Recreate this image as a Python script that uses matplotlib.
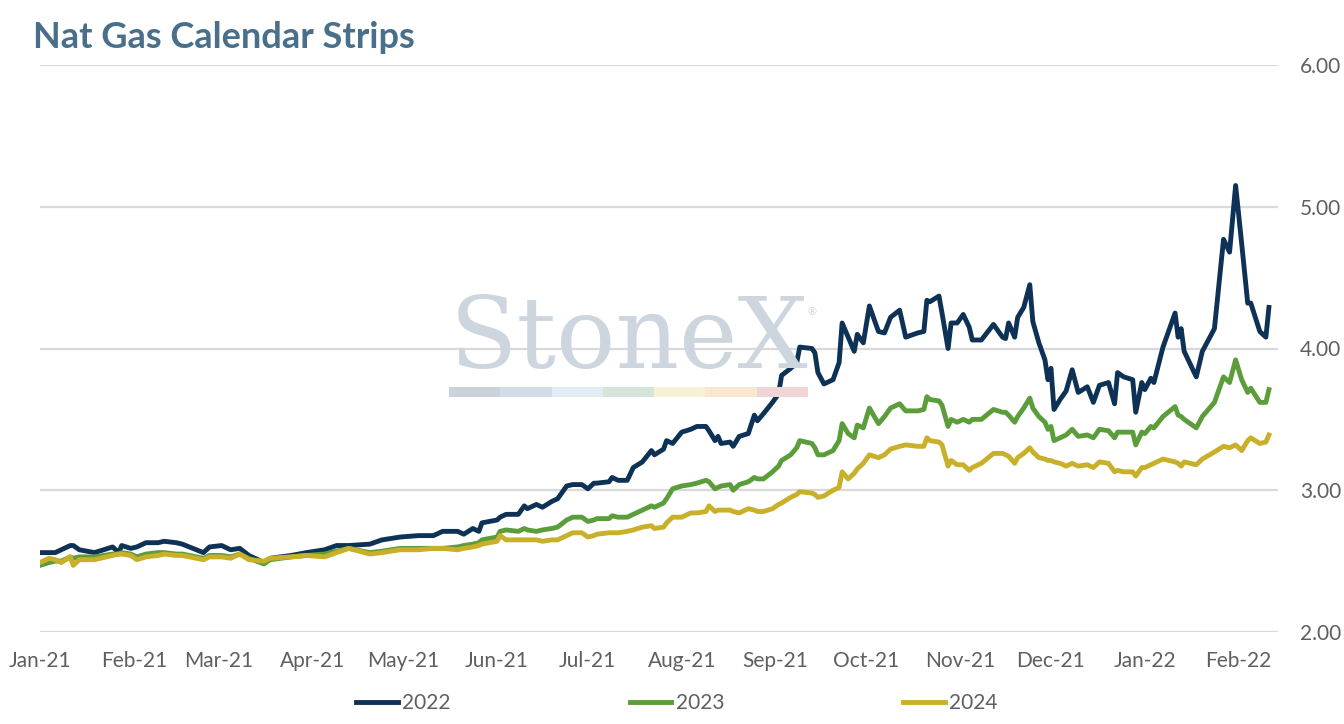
import matplotlib
matplotlib.use("Agg")
import matplotlib.pyplot as plt
import matplotlib.dates as mdates
from matplotlib.patches import Rectangle
import pandas as pd

# ── Data ─────────────────────────────────────────────────
dates = [
    "2021-01-01", "2021-01-04", "2021-01-06", "2021-01-08", "2021-01-11", "2021-01-12",
    "2021-01-14", "2021-01-19", "2021-01-25", "2021-01-27", "2021-01-28", "2021-01-31",
    "2021-02-02", "2021-02-05", "2021-02-09", "2021-02-11", "2021-02-15", "2021-02-17",
    "2021-02-24", "2021-02-26", "2021-03-02", "2021-03-05", "2021-03-08", "2021-03-11",
    "2021-03-16", "2021-03-18", "2021-03-25", "2021-03-30", "2021-04-05", "2021-04-09",
    "2021-04-13", "2021-04-20", "2021-04-24", "2021-04-30", "2021-05-06", "2021-05-11",
    "2021-05-14", "2021-05-19", "2021-05-21", "2021-05-24", "2021-05-26", "2021-05-27",
    "2021-06-01", "2021-06-02", "2021-06-04", "2021-06-08", "2021-06-10", "2021-06-11",
    "2021-06-14", "2021-06-16", "2021-06-19", "2021-06-21", "2021-06-24", "2021-06-26",
    "2021-06-29", "2021-07-01", "2021-07-03", "2021-07-04", "2021-07-08", "2021-07-09",
    "2021-07-11", "2021-07-14", "2021-07-16", "2021-07-19", "2021-07-22", "2021-07-23",
    "2021-07-26", "2021-07-27", "2021-07-29", "2021-08-01", "2021-08-04", "2021-08-06",
    "2021-08-09", "2021-08-10", "2021-08-12", "2021-08-13", "2021-08-14", "2021-08-17",
    "2021-08-18", "2021-08-20", "2021-08-23", "2021-08-25", "2021-08-26", "2021-08-28",
    "2021-08-31", "2021-09-02", "2021-09-03", "2021-09-06", "2021-09-08", "2021-09-09",
    "2021-09-13", "2021-09-14", "2021-09-15", "2021-09-17", "2021-09-20", "2021-09-22",
    "2021-09-23", "2021-09-25", "2021-09-27", "2021-09-28", "2021-09-30", "2021-10-02",
    "2021-10-05", "2021-10-07", "2021-10-09", "2021-10-12", "2021-10-14", "2021-10-18",
    "2021-10-20", "2021-10-21", "2021-10-22", "2021-10-25", "2021-10-26", "2021-10-28",
    "2021-10-29", "2021-10-31", "2021-11-02", "2021-11-04", "2021-11-05", "2021-11-08",
    "2021-11-12", "2021-11-15", "2021-11-16", "2021-11-17", "2021-11-19", "2021-11-20",
    "2021-11-22", "2021-11-24", "2021-11-25", "2021-11-27", "2021-11-29", "2021-11-30",
    "2021-12-01", "2021-12-02", "2021-12-04", "2021-12-06", "2021-12-08", "2021-12-10",
    "2021-12-13", "2021-12-15", "2021-12-17", "2021-12-20", "2021-12-22", "2021-12-23",
    "2021-12-25", "2021-12-28", "2021-12-29", "2021-12-31", "2022-01-01", "2022-01-03",
    "2022-01-04", "2022-01-07", "2022-01-11", "2022-01-12", "2022-01-13", "2022-01-14",
    "2022-01-18", "2022-01-20", "2022-01-24", "2022-01-27", "2022-01-29", "2022-01-31",
    "2022-02-02", "2022-02-04", "2022-02-05", "2022-02-08", "2022-02-10", "2022-02-11",
]

strip_2022 = [
    2.56, 2.56, 2.56, 2.58, 2.61, 2.61, 2.58, 2.56, 2.60, 2.56, 2.61, 2.59,
    2.60, 2.63, 2.63, 2.64, 2.63, 2.62, 2.56, 2.60, 2.61, 2.58, 2.59, 2.54,
    2.49, 2.52, 2.54, 2.56, 2.58, 2.61, 2.61, 2.62, 2.65, 2.67, 2.68, 2.68,
    2.71, 2.71, 2.69, 2.73, 2.71, 2.77, 2.79, 2.81, 2.83, 2.83, 2.89, 2.87,
    2.90, 2.88, 2.92, 2.94, 3.03, 3.04, 3.04, 3.01, 3.05, 3.05, 3.06, 3.09,
    3.07, 3.07, 3.16, 3.20, 3.28, 3.25, 3.29, 3.35, 3.33, 3.41, 3.43, 3.45,
    3.45, 3.42, 3.35, 3.38, 3.33, 3.34, 3.31, 3.38, 3.40, 3.53, 3.49, 3.54,
    3.62, 3.68, 3.81, 3.86, 3.90, 4.01, 4.00, 3.97, 3.83, 3.75, 3.78, 3.90,
    4.18, 4.08, 3.98, 4.10, 4.04, 4.30, 4.12, 4.11, 4.22, 4.27, 4.08, 4.11,
    4.12, 4.34, 4.33, 4.37, 4.25, 4.00, 4.18, 4.18, 4.24, 4.15, 4.06, 4.06,
    4.17, 4.08, 4.07, 4.18, 4.08, 4.22, 4.29, 4.45, 4.19, 4.04, 3.92, 3.78,
    3.86, 3.57, 3.64, 3.70, 3.85, 3.69, 3.73, 3.62, 3.74, 3.76, 3.61, 3.83,
    3.80, 3.78, 3.55, 3.76, 3.71, 3.79, 3.76, 4.01, 4.25, 4.08, 4.14, 3.98,
    3.80, 3.98, 4.14, 4.77, 4.68, 5.15, 4.74, 4.32, 4.32, 4.12, 4.08, 4.29,
]

strip_2023 = [
    2.47, 2.49, 2.50, 2.50, 2.53, 2.52, 2.53, 2.53, 2.55, 2.55, 2.56, 2.55,
    2.53, 2.55, 2.56, 2.56, 2.55, 2.55, 2.52, 2.54, 2.54, 2.53, 2.55, 2.52,
    2.48, 2.51, 2.53, 2.54, 2.55, 2.57, 2.59, 2.56, 2.57, 2.59, 2.59, 2.59,
    2.59, 2.60, 2.61, 2.62, 2.63, 2.65, 2.67, 2.71, 2.72, 2.71, 2.73, 2.72,
    2.71, 2.72, 2.73, 2.74, 2.79, 2.81, 2.81, 2.78, 2.79, 2.80, 2.80, 2.82,
    2.81, 2.81, 2.83, 2.86, 2.89, 2.88, 2.91, 2.94, 3.01, 3.03, 3.04, 3.05,
    3.07, 3.06, 3.01, 3.02, 3.03, 3.04, 3.00, 3.04, 3.06, 3.09, 3.08, 3.08,
    3.13, 3.17, 3.21, 3.25, 3.30, 3.35, 3.33, 3.30, 3.25, 3.25, 3.28, 3.35,
    3.47, 3.40, 3.37, 3.46, 3.44, 3.58, 3.47, 3.52, 3.58, 3.61, 3.56, 3.56,
    3.57, 3.66, 3.64, 3.63, 3.60, 3.45, 3.50, 3.48, 3.50, 3.48, 3.50, 3.50,
    3.57, 3.55, 3.55, 3.53, 3.48, 3.52, 3.58, 3.65, 3.58, 3.52, 3.48, 3.43,
    3.45, 3.35, 3.37, 3.39, 3.43, 3.38, 3.39, 3.37, 3.43, 3.42, 3.37, 3.41,
    3.41, 3.41, 3.32, 3.41, 3.40, 3.45, 3.44, 3.52, 3.59, 3.53, 3.52, 3.50,
    3.44, 3.52, 3.62, 3.80, 3.76, 3.92, 3.78, 3.69, 3.72, 3.62, 3.62, 3.71,
]

strip_2024 = [
    2.49, 2.52, 2.51, 2.49, 2.53, 2.47, 2.51, 2.51, 2.54, 2.55, 2.55, 2.54,
    2.51, 2.53, 2.54, 2.55, 2.54, 2.54, 2.51, 2.53, 2.53, 2.52, 2.55, 2.51,
    2.50, 2.52, 2.53, 2.54, 2.53, 2.56, 2.59, 2.55, 2.56, 2.58, 2.58, 2.59,
    2.59, 2.58, 2.59, 2.60, 2.61, 2.62, 2.64, 2.68, 2.65, 2.65, 2.65, 2.65,
    2.65, 2.64, 2.65, 2.65, 2.68, 2.70, 2.70, 2.67, 2.68, 2.69, 2.70, 2.70,
    2.70, 2.71, 2.72, 2.74, 2.75, 2.73, 2.74, 2.77, 2.81, 2.81, 2.84, 2.84,
    2.85, 2.89, 2.85, 2.86, 2.86, 2.86, 2.85, 2.84, 2.87, 2.86, 2.85, 2.85,
    2.87, 2.90, 2.91, 2.95, 2.97, 2.99, 2.98, 2.97, 2.95, 2.96, 3.00, 3.02,
    3.13, 3.08, 3.12, 3.15, 3.19, 3.25, 3.23, 3.25, 3.29, 3.31, 3.32, 3.31,
    3.31, 3.37, 3.35, 3.34, 3.32, 3.17, 3.21, 3.18, 3.18, 3.14, 3.16, 3.19,
    3.26, 3.26, 3.25, 3.24, 3.19, 3.23, 3.26, 3.30, 3.27, 3.23, 3.22, 3.21,
    3.21, 3.20, 3.19, 3.17, 3.19, 3.17, 3.18, 3.16, 3.20, 3.19, 3.13, 3.14,
    3.13, 3.13, 3.10, 3.16, 3.16, 3.18, 3.19, 3.22, 3.20, 3.19, 3.17, 3.20,
    3.18, 3.22, 3.27, 3.31, 3.30, 3.32, 3.28, 3.35, 3.37, 3.33, 3.34, 3.39,
]

series_labels = ["2022", "2023", "2024"]
y_ticks       = [2.0, 3.0, 4.0, 5.0, 6.0]

# ── Style ─────────────────────────────────────────────────
NAVY   = "#0e3156"
GREEN  = "#5c9d3b"
GOLD   = "#c8b02b"
TITLE  = "#4a6f8a"
TEXT   = "#5f5f5f"
GRID   = "#d9d9d9"
FONT   = ["Lato", "DejaVu Sans"]
LW     = 3.5

plt.rcParams["font.family"] = FONT

x = pd.to_datetime(dates)

fig = plt.figure(figsize=(13.44, 7.24), dpi=100)
fig.patch.set_facecolor("white")
ax = fig.add_axes([40 / 1344, 92 / 724, 1238 / 1344, 567 / 724])

# watermark (behind everything)
fig.text(450 / 1344, (724 - 368) / 724, "StoneX", family="DejaVu Serif",
         fontsize=71, color="#cdd5de", ha="left", va="baseline", zorder=0)
fig.text(807 / 1344, (724 - 312) / 724, "®", family="DejaVu Sans",
         fontsize=8, color="#cdd5de", ha="left", va="center", zorder=0)
bar_cols = ["#cbd2d9", "#d3dde8", "#e2ecf5", "#d4e4d8",
            "#f6f0d6", "#f9e8cf", "#f0d4d6"]
seg_w = (808 - 449) / len(bar_cols)
for i, c in enumerate(bar_cols):
    fig.patches.append(Rectangle(((449 + i * seg_w) / 1344, (724 - 397) / 724),
                                 seg_w / 1344, 10 / 724,
                                 transform=fig.transFigure, facecolor=c,
                                 edgecolor="none", zorder=0))

ax.set_facecolor("none")
ax.plot(x, strip_2022, color=NAVY,  lw=LW, label=series_labels[0],
        solid_joinstyle="round", zorder=3)
ax.plot(x, strip_2023, color=GREEN, lw=LW, label=series_labels[1],
        solid_joinstyle="round", zorder=3)
ax.plot(x, strip_2024, color=GOLD,  lw=LW, label=series_labels[2],
        solid_joinstyle="round", zorder=3)

ax.set_ylim(2.0, 6.0)
ax.set_yticks(y_ticks)
ax.yaxis.set_major_formatter(plt.FuncFormatter(lambda v, _: f"{v:.2f}"))
ax.yaxis.tick_right()
ax.set_xlim(pd.Timestamp("2021-01-01"), pd.Timestamp("2022-02-14"))
ax.xaxis.set_major_locator(mdates.MonthLocator())
ax.xaxis.set_major_formatter(mdates.DateFormatter("%b-%y"))

ax.grid(axis="y", color=GRID, lw=1.6)
ax.grid(axis="x", visible=False)
ax.set_axisbelow(True)
for s in ax.spines.values():
    s.set_visible(False)
ax.tick_params(axis="both", length=0, labelsize=15, labelcolor=TEXT)
ax.tick_params(axis="y", pad=16)
ax.tick_params(axis="x", pad=14)

fig.text(33 / 1344, (724 - 37) / 724, "Nat Gas Calendar Strips",
         fontsize=26, fontweight="bold", color=TITLE, ha="left", va="center")

fig.legend(loc="center", bbox_to_anchor=(677 / 1344, 21 / 724), ncol=3,
           frameon=False, fontsize=15, labelcolor=TEXT, handlelength=2.0,
           handletextpad=0.2, columnspacing=8.6)

fig.savefig("out.png", dpi=100, facecolor="white")
